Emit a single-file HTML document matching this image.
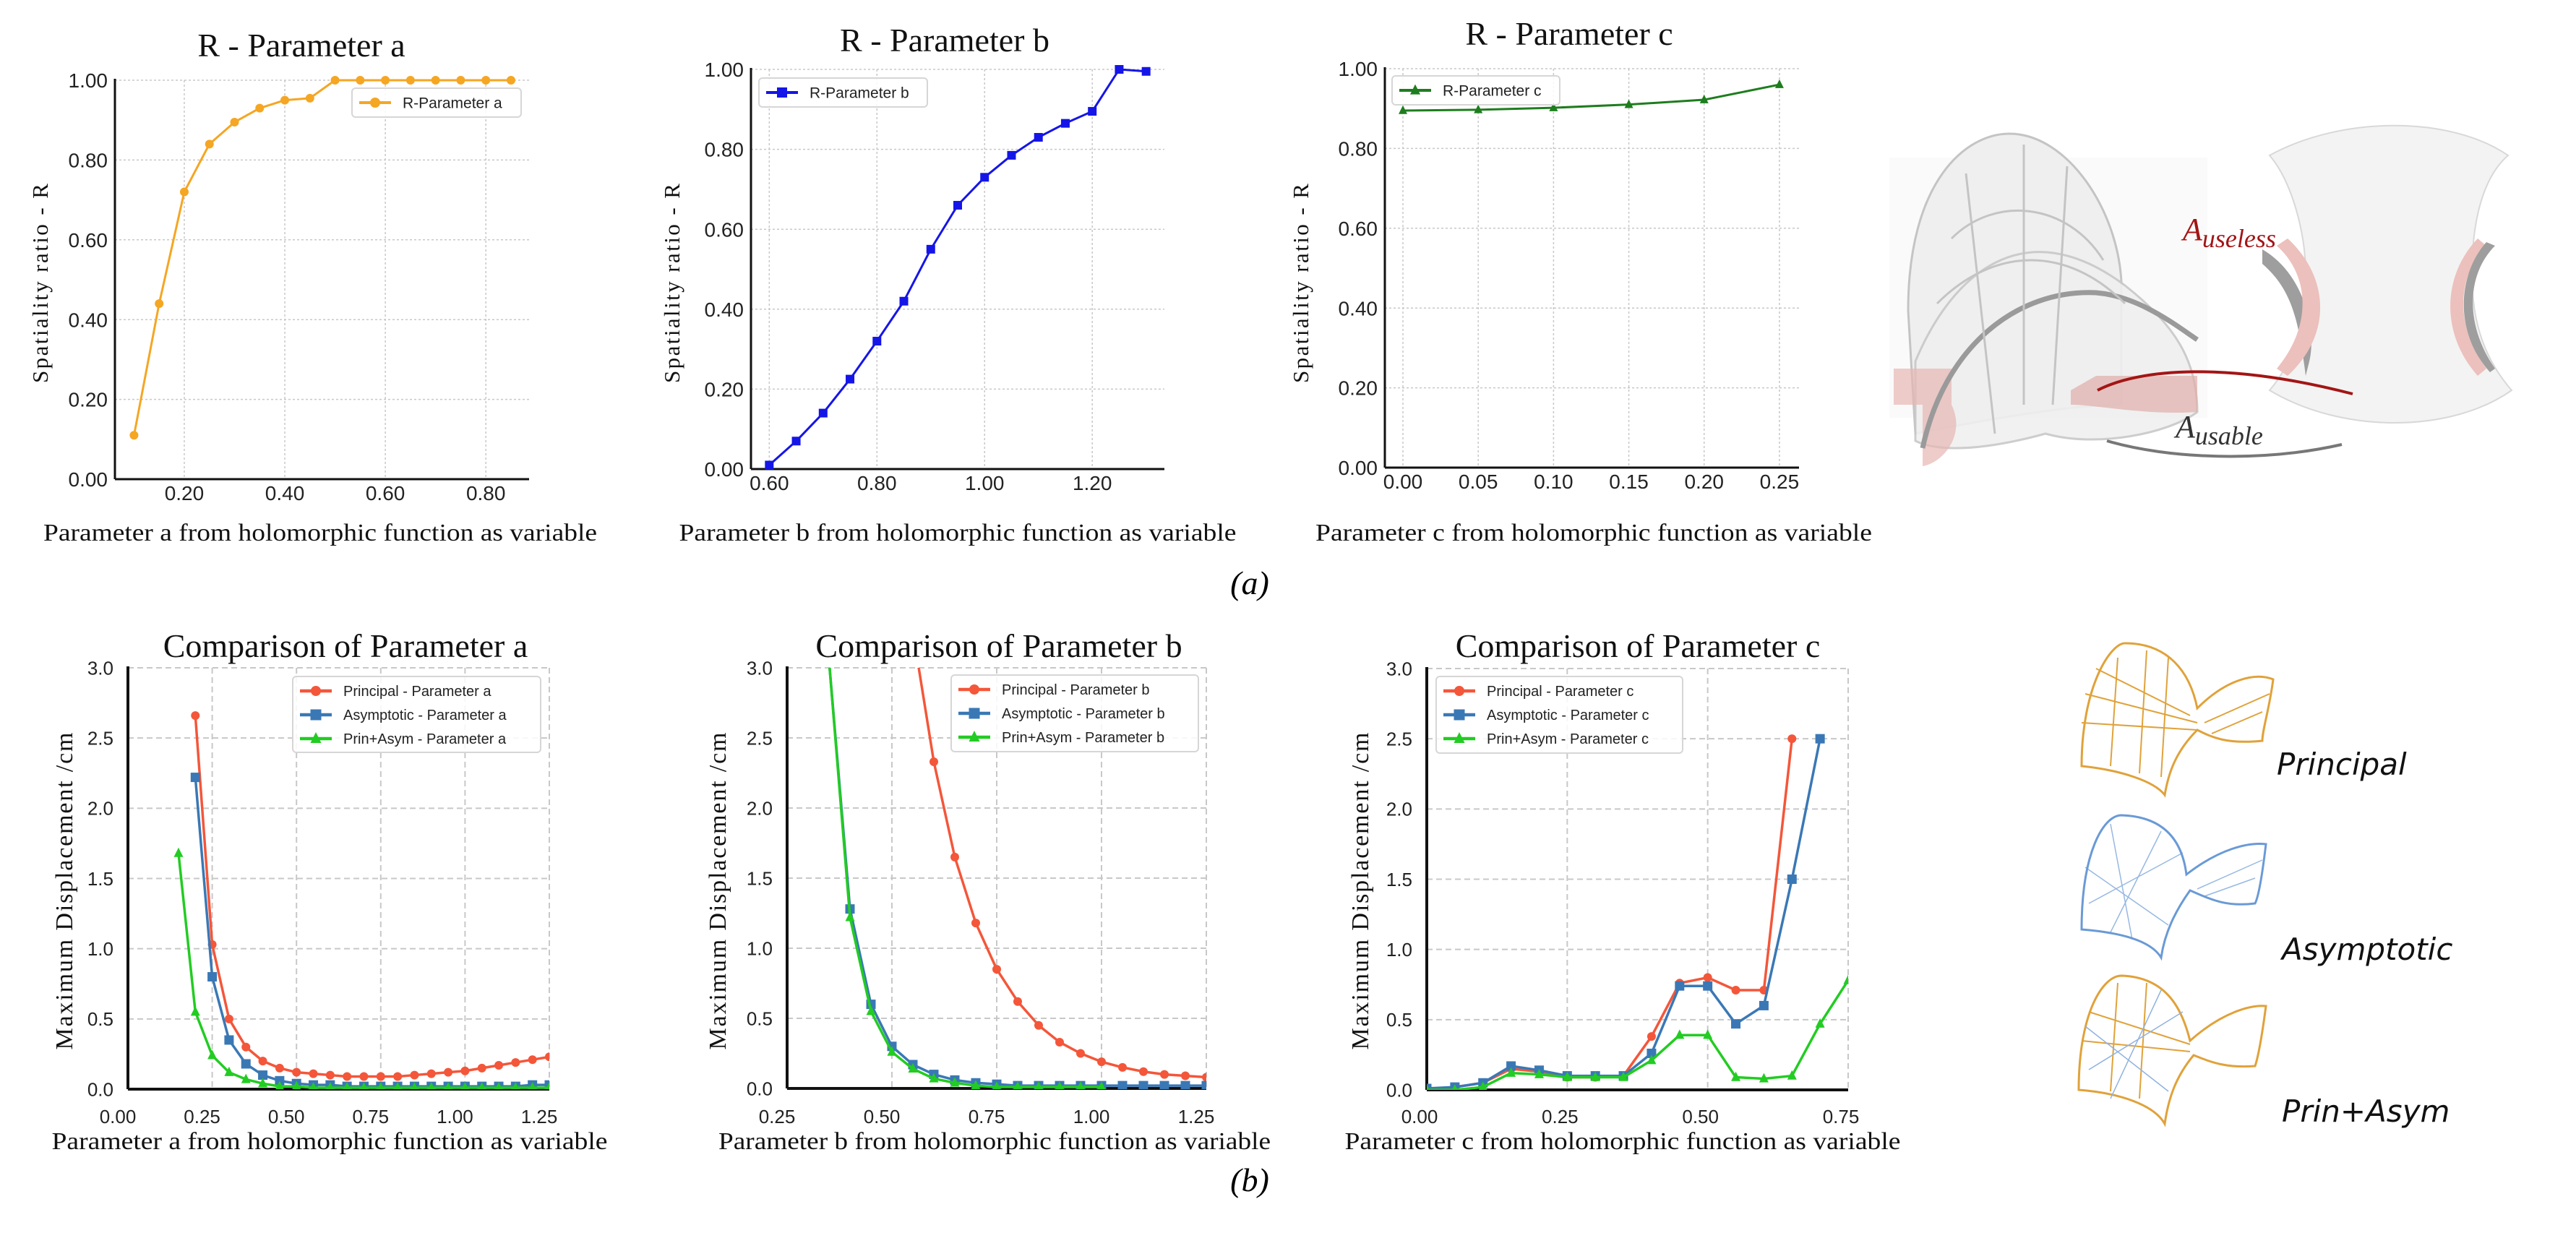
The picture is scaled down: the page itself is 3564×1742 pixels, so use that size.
<!DOCTYPE html>
<html><head><meta charset="utf-8">
<style>
html,body{margin:0;padding:0;background:#fff;}
svg{display:block;}
</style></head>
<body>
<svg id="fig" width="3564" height="1742" viewBox="0 0 3564 1742" xmlns="http://www.w3.org/2000/svg">
<defs>
<clipPath id="clipBa"><rect x="177" y="924" width="583" height="583"/></clipPath>
<clipPath id="clipBb"><rect x="1089" y="924" width="580" height="583"/></clipPath>
<clipPath id="clipBc"><rect x="1974" y="925" width="583" height="583"/></clipPath>
</defs>
<g id="charts"></g>

<!-- panel captions -->
<text x="1729" y="822" font-family="Liberation Serif, serif" font-style="italic" font-size="46" text-anchor="middle">(a)</text>
<text x="1729" y="1648" font-family="Liberation Serif, serif" font-style="italic" font-size="46" text-anchor="middle">(b)</text>

<!-- top right illustration -->
<g>
  <rect x="2614" y="218" width="440" height="360" fill="#fafafa"/>
  <path d="M2640 430 C2640 250 2720 185 2780 185 C2860 185 2930 290 2935 390 L2935 560 C2850 560 2700 590 2650 600 Z" fill="#efefef" stroke="#c4c4c4" stroke-width="3"/>
  <path d="M2650 500 C2700 380 2800 290 2940 395 C3010 450 3040 500 3040 570 C3000 600 2900 620 2830 600 C2720 630 2670 620 2650 610 Z" fill="#f0f0f0" stroke="#c8c8c8" stroke-width="3" opacity="0.9"/>
  <path d="M2620 510 L2700 510 L2700 560 C2720 600 2690 640 2660 645 L2660 560 L2620 560 Z" fill="#e7b7b4" opacity="0.7"/>
  <path d="M2865 540 L2900 520 L3040 520 L3040 570 C2970 575 2900 560 2865 560 Z" fill="#e0aeaa" opacity="0.7"/>
  <path d="M2660 620 C2690 480 2790 400 2900 405 C2960 410 3010 450 3040 470" fill="none" stroke="#9a9a9a" stroke-width="7"/>
  <path d="M2700 330 C2760 270 2860 280 2910 360 M2680 420 C2760 340 2860 340 2940 420 M2720 240 L2760 600 M2800 200 L2800 560 M2860 230 L2840 560" fill="none" stroke="#c4c4c4" stroke-width="3"/>
  <path d="M3140 215 C3240 160 3390 160 3470 215 C3430 250 3420 320 3420 380 C3420 450 3440 500 3475 540 C3390 600 3240 600 3140 540 C3175 500 3190 440 3190 380 C3190 320 3170 250 3140 215 Z" fill="#f3f3f3" stroke="#d8d8d8" stroke-width="2"/>
  <path d="M3130 345 C3190 380 3205 460 3195 500 L3190 520 C3180 440 3170 400 3130 365 Z" fill="#9e9e9e"/>
  <path d="M3165 330 C3220 380 3230 460 3165 520 L3150 510 C3200 450 3195 380 3150 340 Z" fill="#ecc0bc"/>
  <path d="M3428 330 C3380 380 3375 460 3428 520 L3440 510 C3395 450 3400 380 3440 340 Z" fill="#ecc0bc"/>
  <path d="M3440 335 C3400 380 3395 460 3445 515 L3452 510 C3410 450 3412 380 3452 340 Z" fill="#9e9e9e"/>
  <path d="M2902 540 C2960 510 3080 500 3255 545" fill="none" stroke="#a31515" stroke-width="4"/>
  <path d="M2915 610 C3000 635 3130 640 3240 615" fill="none" stroke="#777" stroke-width="4"/>
  <text x="3020" y="332" font-family="Liberation Serif, serif" font-style="italic" font-size="44" fill="#a31515">A<tspan font-size="36" dy="10">useless</tspan></text>
  <text x="3010" y="605" font-family="Liberation Serif, serif" font-style="italic" font-size="44" fill="#333">A<tspan font-size="36" dy="10">usable</tspan></text>
</g>

<!-- bottom right illustrations -->
<g fill="none">
  <g stroke="#e0a23a" stroke-width="3">
    <path d="M2880 1060 C2880 950 2920 890 2940 890 C3000 890 3030 930 3040 980 C3080 940 3120 930 3145 940 C3140 980 3130 1010 3130 1025 C3080 1030 3060 1020 3040 1010 C3010 1040 3000 1070 2995 1100 C2980 1080 2930 1065 2880 1060 Z"/>
    <path d="M2880 1000 L3040 1010 M2885 960 L3040 1000 M2900 925 L3030 990 M2920 1060 L2930 910 M2960 1070 L2970 900 M2990 1075 L3000 910 M3050 1000 L3140 960 M3060 1015 L3130 985" stroke-width="2"/>
  </g>
  <g stroke="#6a9ad6" stroke-width="3">
    <path d="M2880 1286 C2880 1180 2910 1128 2935 1128 C3000 1130 3020 1170 3025 1210 C3070 1175 3110 1165 3135 1168 C3130 1210 3125 1240 3120 1250 C3080 1255 3060 1245 3030 1232 C3010 1260 2995 1290 2990 1325 C2975 1300 2930 1290 2880 1286 Z"/>
    <path d="M2885 1200 L3000 1280 M2890 1250 L3020 1180 M2920 1290 L2990 1150 M2950 1300 L2920 1140 M3040 1230 L3130 1190 M3050 1240 L3120 1215" stroke-width="1.5" opacity="0.7"/>
  </g>
  <g stroke="#e0a23a" stroke-width="3">
    <path d="M2876 1508 C2876 1400 2910 1350 2935 1350 C3000 1352 3020 1400 3030 1440 C3075 1400 3115 1390 3135 1392 C3130 1430 3125 1460 3120 1475 C3080 1478 3060 1470 3035 1460 C3010 1490 3000 1520 2995 1555 C2980 1528 2930 1512 2876 1508 Z"/>
    <path d="M2880 1440 L3030 1455 M2890 1400 L3030 1445 M2920 1510 L2930 1360 M2960 1520 L2970 1360" stroke-width="2"/>
    <path d="M2885 1420 L3000 1510 M2890 1480 L3020 1400 M2920 1520 L2990 1370" stroke="#8fb2e0" stroke-width="1.5"/>
  </g>
  <text x="3150" y="1072" font-family="DejaVu Sans, sans-serif" font-style="oblique" font-size="42" fill="#111" stroke="none">Principal</text>
  <text x="3157" y="1328" font-family="DejaVu Sans, sans-serif" font-style="oblique" font-size="42" fill="#111" stroke="none">Asymptotic</text>
  <text x="3157" y="1552" font-family="DejaVu Sans, sans-serif" font-style="oblique" font-size="42" fill="#111" stroke="none">Prin+Asym</text>
</g>
</svg>

<script>
// ---------- data ----------
const topAX = [0.10,0.15,0.20,0.25,0.30,0.35,0.40,0.45,0.50,0.55,0.60,0.65,0.70,0.75,0.80,0.85];
const topAR = [0.11,0.44,0.72,0.84,0.895,0.93,0.95,0.955,1.0,1.0,1.0,1.0,1.0,1.0,1.0,1.0];
const topBX = [0.60,0.65,0.70,0.75,0.80,0.85,0.90,0.95,1.00,1.05,1.10,1.15,1.20,1.25,1.30];
const topBR = [0.01,0.07,0.14,0.225,0.32,0.42,0.55,0.66,0.73,0.785,0.83,0.865,0.895,1.0,0.995];
const topCX = [0.00,0.05,0.10,0.15,0.20,0.25];
const topCR = [0.895,0.897,0.902,0.91,0.922,0.96];

const botAPrinX = [0.20,0.25,0.30,0.35,0.40,0.45,0.50,0.55,0.60,0.65,0.70,0.75,0.80,0.85,0.90,0.95,1.00,1.05,1.10,1.15,1.20,1.25];
const botAPrinY = [2.66,1.03,0.50,0.30,0.20,0.15,0.12,0.11,0.10,0.09,0.09,0.09,0.09,0.10,0.11,0.12,0.13,0.15,0.17,0.19,0.21,0.23];
const botAAsymX = [0.20,0.25,0.30,0.35,0.40,0.45,0.50,0.55,0.60,0.65,0.70,0.75,0.80,0.85,0.90,0.95,1.00,1.05,1.10,1.15,1.20,1.25];
const botAAsymY = [2.22,0.80,0.35,0.18,0.10,0.06,0.04,0.03,0.03,0.02,0.02,0.02,0.02,0.02,0.02,0.02,0.02,0.02,0.02,0.02,0.03,0.03];
const botAPAX = [0.15,0.20,0.25,0.30,0.35,0.40,0.45,0.50,0.55,0.60,0.65,0.70,0.75,0.80,0.85,0.90,0.95,1.00,1.05,1.10,1.15,1.20,1.25];
const botAPAY = [1.68,0.55,0.24,0.12,0.07,0.04,0.02,0.02,0.01,0.01,0.01,0.01,0.01,0.01,0.01,0.01,0.01,0.01,0.01,0.01,0.01,0.01,0.01];

const botBPrinX = [0.55,0.60,0.65,0.70,0.75,0.80,0.85,0.90,0.95,1.00,1.05,1.10,1.15,1.20,1.25];
const botBPrinY = [3.26,2.33,1.65,1.18,0.85,0.62,0.45,0.33,0.25,0.19,0.15,0.12,0.10,0.09,0.08];
const botBAsymX = [0.35,0.40,0.45,0.50,0.55,0.60,0.65,0.70,0.75,0.80,0.85,0.90,0.95,1.00,1.05,1.10,1.15,1.20,1.25];
const botBAsymY = [3.05,1.28,0.60,0.30,0.17,0.10,0.06,0.04,0.03,0.02,0.02,0.02,0.02,0.02,0.02,0.02,0.02,0.02,0.02];
const botBPAX = [0.35,0.40,0.45,0.50,0.55,0.60,0.65,0.70,0.75,0.80,0.85,0.90,0.95,1.00];
const botBPAY = [3.05,1.22,0.55,0.26,0.14,0.07,0.04,0.02,0.01,0.01,0.01,0.01,0.01,0.01];

const botCPrinX = [0.00,0.05,0.10,0.15,0.20,0.25,0.30,0.35,0.40,0.45,0.50,0.55,0.60,0.65];
const botCPrinY = [0.00,0.02,0.05,0.15,0.13,0.09,0.09,0.10,0.38,0.76,0.80,0.71,0.71,2.50];
const botCAsymX = [0.00,0.05,0.10,0.15,0.20,0.25,0.30,0.35,0.40,0.45,0.50,0.55,0.60,0.65,0.70];
const botCAsymY = [0.01,0.02,0.05,0.17,0.14,0.10,0.10,0.10,0.26,0.74,0.74,0.47,0.60,1.50,2.50];
const botCPAX = [0.00,0.05,0.10,0.15,0.20,0.25,0.30,0.35,0.40,0.45,0.50,0.55,0.60,0.65,0.70,0.75];
const botCPAY = [0.00,0.00,0.02,0.12,0.11,0.09,0.09,0.09,0.21,0.39,0.39,0.09,0.08,0.10,0.47,0.78];

const topYTicks = [0,0.2,0.4,0.6,0.8,1.0];
const topATicks = [0.2,0.4,0.6,0.8];
const topBTicks = [0.6,0.8,1.0,1.2];
const topCTicks = [0,0.05,0.1,0.15,0.2,0.25];
const botYTicks = [0,0.5,1.0,1.5,2.0,2.5,3.0];

// ---------- helpers ----------
const NS = 'http://www.w3.org/2000/svg';
const root = document.getElementById('charts');
function mk(tag, attrs, parent){
  const e = document.createElementNS(NS, tag);
  for (const k in attrs) e.setAttribute(k, attrs[k]);
  (parent||root).appendChild(e);
  return e;
}
function txt(s, attrs, parent){ const e = mk('text', attrs, parent); e.textContent = s; return e; }
function marker(g, kind, cx, cy, r, color){
  let m;
  if (kind==='circle') m = mk('circle',{cx:cx,cy:cy,r:r,fill:color},g);
  else if (kind==='square') m = mk('rect',{x:cx-r,y:cy-r,width:2*r,height:2*r,fill:color},g);
  else m = mk('polygon',{points:`${cx},${cy-r*1.2} ${cx-r},${cy+r*0.8} ${cx+r},${cy+r*0.8}`,fill:color},g);
  return m;
}

function chart(cfg){
  const g = mk('g',{});
  
  
  const sx = v => cfg.L + (v - cfg.x0)/(cfg.x1 - cfg.x0)*(cfg.R - cfg.L);
  const sy = v => cfg.B - (v - cfg.y0)/(cfg.y1 - cfg.y0)*(cfg.B - cfg.T);
  const grid = mk('g',{stroke:'#c8c8c8','stroke-width':cfg.bottom?2:1.5,'stroke-dasharray':cfg.bottom?'8,5':'3,3'},g);
  
  
  cfg.xticks.forEach(v=>{ mk('line',{x1:sx(v),x2:sx(v),y1:cfg.T,y2:cfg.B},grid); });
  if (cfg.bottom) mk('line',{x1:cfg.R,x2:cfg.R,y1:cfg.T,y2:cfg.B},grid);
  cfg.yticks.forEach(v=>{ mk('line',{x1:cfg.L,x2:cfg.R,y1:sy(v),y2:sy(v)},grid); });
  const aw = cfg.bottom?4:3;
  const ax = mk('line',{x1:cfg.L,x2:cfg.L,y1:cfg.T-2,y2:cfg.B,stroke:'#111','stroke-width':aw},g);
  
  
  const bx = mk('line',{x1:cfg.L,x2:cfg.R,y1:cfg.B,y2:cfg.B,stroke:'#111','stroke-width':aw},g);
  
  
  cfg.xticks.concat(cfg.xextra||[]).forEach(v=>{
    const t = txt(v.toFixed(2), {x:sx(v)+(cfg.xoff||0), y:cfg.xtickY, 'text-anchor':'middle','font-family':'Liberation Sans, sans-serif','font-size':cfg.tfs,fill:'#222'}, g);
    
    
  });
  cfg.yticks.forEach(v=>{
    const t = txt(v.toFixed(cfg.ydec), {x:cfg.L-cfg.ylabOff, y:sy(v)+cfg.tfs*0.36, 'text-anchor':'end','font-family':'Liberation Sans, sans-serif','font-size':cfg.tfs,fill:'#222'}, g);
    
    
  });
  const tt = txt(cfg.title,{x:cfg.titleX,y:cfg.titleY,'text-anchor':'middle','font-family':'Liberation Serif, serif','font-size':46,fill:'#111'},g);
  
  
  const xl = txt(cfg.xlabel,{x:cfg.xlX,y:cfg.xlY,'text-anchor':'middle','font-family':'Liberation Serif, serif','font-size':34,textLength:cfg.xlW,lengthAdjust:'spacingAndGlyphs',fill:'#111'},g);
  
  
  const yl = txt(cfg.ylabel,{x:0,y:0,'text-anchor':'middle','font-family':'Liberation Serif, serif','font-size':cfg.ylfs,textLength:cfg.ylW,lengthAdjust:'spacing',fill:'#111',transform:`translate(${cfg.ylX},${cfg.ylY}) rotate(-90)`},g);
  
  
  const sg = mk('g',{'clip-path':cfg.clip?`url(#${cfg.clip})`:''},g);
  cfg.series.forEach(s=>{
    const sgg = mk('g',{},sg);
    
    
    const pts = s.x.map((v,i)=>sx(v)+','+sy(s.y[i])).join(' ');
    mk('polyline',{points:pts,fill:'none',stroke:s.color,'stroke-width':s.lw,'stroke-linejoin':'round'},sgg);
    s.x.forEach((v,i)=>{
      const m = marker(sgg, s.marker, sx(v), sy(s.y[i]), s.r, s.color);
      
      
    });
  });
  const lg = mk('g',{},g);
  
  
  const Lb = cfg.leg;
  mk('rect',{x:Lb.x,y:Lb.y,width:Lb.w,height:Lb.h,rx:5,fill:'#fff','fill-opacity':0.85,stroke:'#d6d6d6','stroke-width':2},lg);
  cfg.series.forEach((s,i)=>{
    const yy = Lb.y + Lb.pad + i*Lb.row;
    const e = mk('g',{},lg);
    
    
    mk('line',{x1:Lb.x+10,x2:Lb.x+10+Lb.sw,y1:yy,y2:yy,stroke:s.color,'stroke-width':s.lw+1},e);
    marker(e, s.marker, Lb.x+10+Lb.sw/2, yy, s.r+1, s.color);
    txt(s.label,{x:Lb.x+Lb.sw+26,y:yy+Lb.fs*0.36,'font-family':'Liberation Sans, sans-serif','font-size':Lb.fs,fill:'#222'},e);
  });
}

// ---------- top charts ----------
chart({name:'chart-r-parameter-a',L:159,R:732,T:111,B:663,x0:0.062,x1:0.886,y0:0,y1:1,
  xticks:topATicks,yticks:topYTicks,ydec:2,tfs:28,xtickY:692,ylabOff:10,
  title:'R - Parameter a',titleX:417,titleY:78,
  xlabel:'Parameter a from holomorphic function as variable',xlX:443,xlY:748,xlW:766,
  ylabel:'Spatiality ratio - R',ylX:66,ylY:392,ylW:276,ylfs:31,
  series:[{name:'series-r-parameter-a',label:'R-Parameter a',x:topAX,y:topAR,color:'#f5a623',marker:'circle',r:6,lw:3}],
  leg:{x:487,y:122,w:234,h:40,pad:20,row:40,sw:44,fs:21}});
chart({name:'chart-r-parameter-b',L:1039,R:1611,T:96,B:649,x0:0.566,x1:1.334,y0:0,y1:1,
  xticks:topBTicks,yticks:topYTicks,ydec:2,tfs:28,xtickY:678,ylabOff:10,
  title:'R - Parameter b',titleX:1307,titleY:71,
  xlabel:'Parameter b from holomorphic function as variable',xlX:1325,xlY:748,xlW:771,
  ylabel:'Spatiality ratio - R',ylX:940,ylY:392,ylW:276,ylfs:31,
  series:[{name:'series-r-parameter-b',label:'R-Parameter b',x:topBX,y:topBR,color:'#1515e8',marker:'square',r:6,lw:3}],
  leg:{x:1050,y:108,w:233,h:40,pad:20,row:40,sw:44,fs:21}});
chart({name:'chart-r-parameter-c',L:1916,R:2489,T:95,B:647,x0:-0.012,x1:0.263,y0:0,y1:1,
  xticks:topCTicks,yticks:topYTicks,ydec:2,tfs:28,xtickY:676,ylabOff:10,
  title:'R - Parameter c',titleX:2171,titleY:62,
  xlabel:'Parameter c from holomorphic function as variable',xlX:2205,xlY:748,xlW:770,
  ylabel:'Spatiality ratio - R',ylX:1810,ylY:392,ylW:276,ylfs:31,
  series:[{name:'series-r-parameter-c',label:'R-Parameter c',x:topCX,y:topCR,color:'#1e7d1e',marker:'triangle',r:6,lw:3}],
  leg:{x:1926,y:105,w:232,h:40,pad:20,row:40,sw:44,fs:21}});

// ---------- bottom charts ----------
const red='#f4563a', blue='#3a78b5', green='#22cc22';
chart({name:'chart-comparison-parameter-a',bottom:true,clip:'clipBa',L:177,R:760,T:924,B:1507,x0:0,x1:1.25,y0:0,y1:3,
  xticks:[0.25,0.5,0.75,1.0,1.25],xextra:[0],xoff:-14,yticks:botYTicks,ydec:1,tfs:26,xtickY:1554,ylabOff:20,
  title:'Comparison of Parameter a',titleX:478,titleY:909,
  xlabel:'Parameter a from holomorphic function as variable',xlX:456,xlY:1590,xlW:769,
  ylabel:'Maximum Displacement /cm',ylX:100,ylY:1233,ylW:439,ylfs:34,
  series:[
    {name:'series-principal-a',label:'Principal - Parameter a',x:botAPrinX,y:botAPrinY,color:red,marker:'circle',r:6,lw:3.5},
    {name:'series-asymptotic-a',label:'Asymptotic - Parameter a',x:botAAsymX,y:botAAsymY,color:blue,marker:'square',r:6.5,lw:3.5},
    {name:'series-prin-asym-a',label:'Prin+Asym - Parameter a',x:botAPAX,y:botAPAY,color:green,marker:'triangle',r:6.5,lw:3.5}],
  leg:{x:405,y:936,w:343,h:105,pad:20,row:33,sw:44,fs:20}});
chart({name:'chart-comparison-parameter-b',bottom:true,clip:'clipBb',L:1089,R:1669,T:924,B:1506,x0:0.25,x1:1.25,y0:0,y1:3,
  xticks:[0.5,0.75,1.0,1.25],xextra:[0.25],xoff:-14,yticks:botYTicks,ydec:1,tfs:26,xtickY:1554,ylabOff:20,
  title:'Comparison of Parameter b',titleX:1382,titleY:909,
  xlabel:'Parameter b from holomorphic function as variable',xlX:1376,xlY:1590,xlW:764,
  ylabel:'Maximum Displacement /cm',ylX:1004,ylY:1233,ylW:439,ylfs:34,
  series:[
    {name:'series-principal-b',label:'Principal - Parameter b',x:botBPrinX,y:botBPrinY,color:red,marker:'circle',r:6,lw:3.5},
    {name:'series-asymptotic-b',label:'Asymptotic - Parameter b',x:botBAsymX,y:botBAsymY,color:blue,marker:'square',r:6.5,lw:3.5},
    {name:'series-prin-asym-b',label:'Prin+Asym - Parameter b',x:botBPAX,y:botBPAY,color:green,marker:'triangle',r:6.5,lw:3.5}],
  leg:{x:1316,y:934,w:342,h:106,pad:20,row:33,sw:44,fs:20}});
chart({name:'chart-comparison-parameter-c',bottom:true,clip:'clipBc',L:1974,R:2557,T:925,B:1508,x0:0,x1:0.75,y0:0,y1:3,
  xticks:[0.25,0.5,0.75],xextra:[0],xoff:-10,yticks:botYTicks,ydec:1,tfs:26,xtickY:1554,ylabOff:20,
  title:'Comparison of Parameter c',titleX:2266,titleY:909,
  xlabel:'Parameter c from holomorphic function as variable',xlX:2245,xlY:1590,xlW:769,
  ylabel:'Maximum Displacement /cm',ylX:1893,ylY:1233,ylW:439,ylfs:34,
  series:[
    {name:'series-principal-c',label:'Principal - Parameter c',x:botCPrinX,y:botCPrinY,color:red,marker:'circle',r:6,lw:3.5},
    {name:'series-asymptotic-c',label:'Asymptotic - Parameter c',x:botCAsymX,y:botCAsymY,color:blue,marker:'square',r:6.5,lw:3.5},
    {name:'series-prin-asym-c',label:'Prin+Asym - Parameter c',x:botCPAX,y:botCPAY,color:green,marker:'triangle',r:6.5,lw:3.5}],
  leg:{x:1987,y:936,w:341,h:106,pad:20,row:33,sw:44,fs:20}});
</script>
</body></html>
